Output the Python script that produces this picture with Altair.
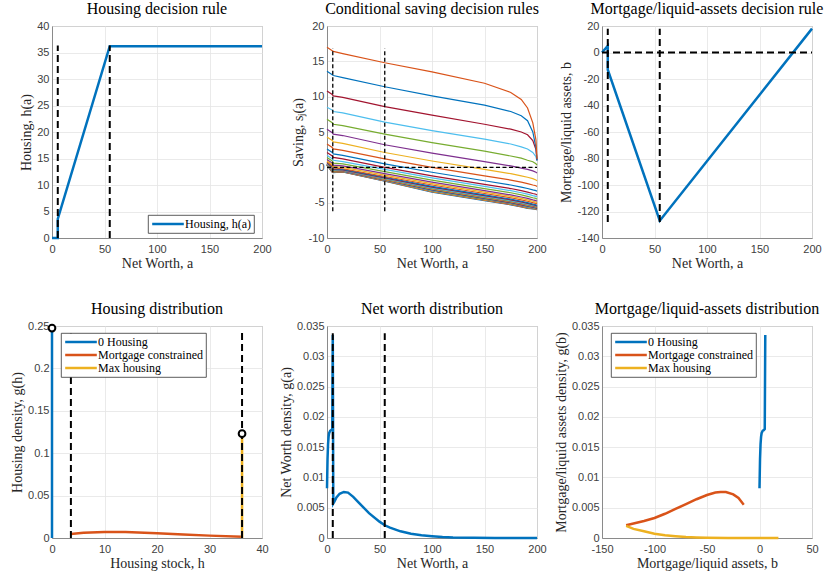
import altair as alt
import pandas as pd

# ---------------- colours (MATLAB default order) ----------------
BLUE, ORANGE, YELLOW = "#0072BD", "#D95319", "#EDB120"
PURPLE, GREEN, CYAN, RED = "#7E2F8E", "#77AC30", "#4DBEEE", "#A2142F"
CYCLE = [BLUE, ORANGE, YELLOW, PURPLE, GREEN, CYAN, RED]

SERIF = "Liberation Serif"
SANS = "Liberation Sans"

NW_TICKS = [0, 50, 100, 150, 200]
SERIES = ["0 Housing", "Mortgage constrained", "Max housing"]

# ---------------- Panel 1: housing decision rule ----------------
P1_A = [0, 5.5, 5.5, 55, 200]
P1_H = [0, 0, 3.6, 36.2, 36.2]
P1_SEG_X1 = [5.5, 55]
P1_SEG_Y1 = [0, 0]
P1_SEG_X2 = [5.5, 55]
P1_SEG_Y2 = [36.3, 36.3]

# ---------------- Panel 2: conditional saving rules ----------------
P2_A = [0, 5, 6, 15, 55, 100, 150, 175, 185, 191, 196, 199, 200]
# listed from the top curve to the bottom curve
P2_S = [
    [17.0, 16.5, 16.4, 16.1, 14.8, 13.5, 11.9, 10.6, 9.6, 8.4, 6.3, 3.9, 1.2],
    [13.6, 13.1, 13.0, 12.7, 11.4, 10.1, 8.8, 7.9, 7.3, 6.6, 5.0, 2.8, 1.0],
    [10.8, 10.3, 10.1, 9.9, 8.6, 7.4, 6.1, 5.4, 5.0, 4.6, 3.8, 2.5, 1.0],
    [8.5, 8.1, 7.9, 7.7, 6.4, 5.2, 4.0, 3.3, 2.9, 2.6, 2.1, 1.5, 0.9],
    [6.8, 6.3, 6.1, 5.9, 4.7, 3.5, 2.3, 1.6, 1.3, 1.0, 0.8, 0.5, 0.3],
    [5.4, 4.9, 4.7, 4.5, 3.2, 2.0, 0.8, 0.2, -0.1, -0.3, -0.5, -0.7, -0.8],
    [4.3, 3.8, 3.6, 3.4, 2.1, 0.9, -0.3, -0.9, -1.2, -1.4, -1.6, -1.8, -1.9],
    [3.3, 2.8, 2.6, 2.4, 1.2, 0.0, -1.2, -1.8, -2.1, -2.3, -2.5, -2.6, -2.7],
    [2.6, 2.1, 1.9, 1.7, 0.5, -0.7, -1.9, -2.5, -2.8, -3.0, -3.2, -3.3, -3.4],
    [2.1, 1.6, 1.4, 1.2, 0.0, -1.2, -2.4, -3.0, -3.3, -3.5, -3.7, -3.8, -3.9],
    [1.7, 1.2, 1.0, 0.8, -0.3, -1.5, -2.7, -3.3, -3.6, -3.8, -4.0, -4.1, -4.2],
    [1.4, 0.9, 0.6, 0.5, -0.6, -1.8, -3.0, -3.6, -3.9, -4.1, -4.3, -4.4, -4.5],
    [1.1, 0.6, 0.3, 0.2, -0.9, -2.1, -3.3, -3.9, -4.2, -4.4, -4.6, -4.7, -4.8],
    [0.9, 0.4, 0.1, 0.0, -1.1, -2.3, -3.5, -4.1, -4.4, -4.6, -4.8, -4.9, -5.0],
    [0.8, 0.2, -0.1, -0.2, -1.3, -2.5, -3.7, -4.3, -4.6, -4.8, -5.0, -5.1, -5.2],
    [0.7, 0.1, -0.2, -0.3, -1.4, -2.7, -3.9, -4.5, -4.8, -5.0, -5.2, -5.3, -5.4],
    [0.6, 0.0, -0.3, -0.35, -1.5, -2.8, -4.0, -4.6, -4.9, -5.1, -5.3, -5.4, -5.5],
    [0.55, -0.1, -0.35, -0.4, -1.55, -2.9, -4.1, -4.7, -5.0, -5.2, -5.35, -5.45, -5.55],
    [0.5, -0.15, -0.4, -0.4, -1.6, -2.95, -4.15, -4.75, -5.05, -5.25, -5.4, -5.5, -5.6],
    [0.5, -0.2, -0.45, -0.42, -1.65, -3.0, -4.2, -4.8, -5.1, -5.3, -5.45, -5.55, -5.65],
    [0.45, -0.25, -0.5, -0.45, -1.7, -3.05, -4.25, -4.85, -5.15, -5.35, -5.5, -5.6, -5.7],
    [0.45, -0.3, -0.5, -0.47, -1.72, -3.1, -4.3, -4.9, -5.2, -5.4, -5.55, -5.65, -5.75],
    [0.4, -0.35, -0.55, -0.5, -1.75, -3.15, -4.35, -4.95, -5.25, -5.45, -5.6, -5.7, -5.8],
    [0.4, -0.4, -0.6, -0.52, -1.78, -3.2, -4.4, -5.0, -5.3, -5.5, -5.65, -5.75, -5.85],
    [0.38, -0.45, -0.62, -0.55, -1.8, -3.25, -4.45, -5.05, -5.35, -5.55, -5.7, -5.8, -5.88],
    [0.36, -0.5, -0.65, -0.57, -1.83, -3.3, -4.5, -5.1, -5.4, -5.6, -5.72, -5.84, -5.9],
    [0.34, -0.55, -0.68, -0.6, -1.86, -3.35, -4.55, -5.15, -5.45, -5.65, -5.76, -5.87, -5.93],
    [0.32, -0.6, -0.7, -0.62, -1.9, -3.4, -4.6, -5.2, -5.5, -5.7, -5.8, -5.9, -5.96],
    [0.3, -0.65, -0.72, -0.64, -1.93, -3.45, -4.65, -5.25, -5.55, -5.75, -5.85, -5.93, -5.98],
    [0.28, -0.7, -0.75, -0.66, -1.96, -3.5, -4.7, -5.3, -5.6, -5.8, -5.9, -5.96, -6.0],
]
P2_SEG_X1 = [5.5, 55, 0]
P2_SEG_Y1 = [-6.2, -6.2, 0]
P2_SEG_X2 = [5.5, 55, 200]
P2_SEG_Y2 = [16.8, 16.8, 0]

# ---------------- Panel 3: mortgage / liquid assets rule ----------------
P3_A = [0, 5.5, 5.5, 55, 200]
P3_B = [0, 5, -13, -127, 18]
P3_SEG_X1 = [5.5, 55, 0]
P3_SEG_Y1 = [-128, -128, 0]
P3_SEG_X2 = [5.5, 55, 200]
P3_SEG_Y2 = [18, 18, 0]

# ---------------- Panel 4: housing distribution ----------------
P4_BLUE_X = [0, 0]
P4_BLUE_Y = [0, 0.2475]
P4_ORANGE_X = [3.6, 6, 10, 14, 20, 25, 30, 36.2]
P4_ORANGE_Y = [0.0047, 0.0062, 0.0071, 0.0071, 0.0056, 0.0042, 0.0028, 0.0015]
P4_YELLOW_X = [36.2, 36.2]
P4_YELLOW_Y = [0, 0.123]
P4_MARK_X = [0, 36.2]
P4_MARK_Y = [0.2475, 0.123]
P4_SEG_X1 = [3.6, 36.2]
P4_SEG_Y1 = [0, 0]
P4_SEG_X2 = [3.6, 36.2]
P4_SEG_Y2 = [0.245, 0.245]

# ---------------- Panel 5: net worth distribution ----------------
P5_A = [0, 0.5, 1, 1.5, 2, 3, 4, 5, 5.5, 6, 7, 9, 12, 16, 20, 25, 30, 40, 50,
        55, 60, 70, 80, 90, 100, 110, 120, 140, 160, 200]
P5_G = [0.0082, 0.013, 0.0155, 0.0167, 0.0173, 0.0177, 0.0178, 0.018, 0.0335,
        0.0057, 0.006, 0.0067, 0.0073, 0.0076, 0.0075, 0.0068, 0.0059, 0.0041,
        0.0027, 0.0021, 0.0017, 0.0011, 0.0007, 0.00045, 0.0003, 0.00018,
        0.0001, 0.00003, 0.00001, 0.0]
P5_SEG_X1 = [5.5, 55]
P5_SEG_Y1 = [0, 0]
P5_SEG_X2 = [5.5, 55]
P5_SEG_Y2 = [0.0338, 0.0338]

# ---------------- Panel 6: mortgage / liquid assets distribution ----------------
P6_BLUE_B = [0, 0.5, 1, 1.5, 2, 3, 4, 5, 5.5]
P6_BLUE_G = [0.0082, 0.013, 0.0155, 0.0167, 0.0173, 0.0177, 0.0178, 0.018, 0.0335]
P6_ORANGE_B = [-127, -120, -110, -100, -90, -80, -70, -60, -50, -42, -37, -32, -25, -20, -15]
P6_ORANGE_G = [0.0021, 0.0024, 0.0028, 0.0033, 0.0040, 0.0048, 0.0056, 0.0064,
               0.0071, 0.0075, 0.0076, 0.0076, 0.0072, 0.0066, 0.0055]
P6_YELLOW_B = [-127, -120, -110, -100, -90, -80, -70, -60, -50, -30, 0, 18]
P6_YELLOW_G = [0.0020, 0.0015, 0.0011, 0.0007, 0.00045, 0.0003, 0.00018,
               0.0001, 0.00005, 0.00001, 0.0, 0.0]

# ---------------- helpers ----------------
LBL = "datum.value < 0 ? '-' + format(-datum.value, '~g') : format(datum.value, '~g')"
W, H = 210, 212


def X(dom, ticks, title):
    return alt.X("x:Q", scale=alt.Scale(domain=dom, nice=False, zero=False),
                 axis=alt.Axis(title=title, values=ticks, labelExpr=LBL))


def Y(dom, ticks, title):
    return alt.Y("y:Q", scale=alt.Scale(domain=dom, nice=False, zero=False),
                 axis=alt.Axis(title=title, values=ticks, labelExpr=LBL))


def line_df(xs, ys, name):
    return pd.DataFrame({"x": xs, "y": ys, "o": list(range(len(xs))), "s": name})


def legend(lx, ly):
    return alt.Legend(title=None, orient="none", legendX=lx, legendY=ly,
                      symbolType="M-5,0H5", symbolSize=40, symbolStrokeWidth=2.5,
                      symbolOffset=11, labelOffset=11)


def dashes(x1, y1, x2, y2, xe, ye, width=2.0, dash=(7, 4)):
    df = pd.DataFrame({"x": x1, "y": y1, "x2": x2, "y2": y2})
    return alt.Chart(df).mark_rule(color="black", strokeWidth=width,
                                   strokeDash=list(dash)).encode(
        x=xe, y=ye, x2="x2:Q", y2="y2:Q")


# ---------------- Panel 1 ----------------
x1 = X([0, 200], NW_TICKS, "Net Worth, a")
y1 = Y([0, 40], list(range(0, 45, 5)), "Housing, h(a)")
p1_line = alt.Chart(line_df(P1_A, P1_H, "Housing, h(a)")).mark_line(strokeWidth=2.5).encode(
    x=x1, y=y1, order="o:Q",
    color=alt.Color("s:N", scale=alt.Scale(domain=["Housing, h(a)"], range=[BLUE]),
                    legend=legend(96, 189)))
p1 = alt.layer(p1_line, dashes(P1_SEG_X1, P1_SEG_Y1, P1_SEG_X2, P1_SEG_Y2, x1, y1)).properties(
    width=W, height=H, title="Housing decision rule")

# ---------------- Panel 2 ----------------
x2 = X([0, 200], NW_TICKS, "Net Worth, a")
y2 = Y([-10, 20], list(range(-10, 25, 5)), "Saving, sⱼ(a)")
n2 = len(P2_S)
rows = []
for k, vals in enumerate(P2_S):
    idx = n2 - 1 - k  # plotting index (bottom curve first)
    for j, (a, s) in enumerate(zip(P2_A, vals)):
        rows.append({"x": a, "y": s, "o": j, "id": idx, "col": CYCLE[idx % 7]})
df2 = pd.DataFrame(rows).sort_values(["id", "o"])
p2_lines = alt.Chart(df2).mark_line(strokeWidth=1.2).encode(
    x=x2, y=y2, order="o:Q", detail="id:N", color=alt.Color("col:N", scale=None))
p2 = alt.layer(p2_lines, dashes(P2_SEG_X1, P2_SEG_Y1, P2_SEG_X2, P2_SEG_Y2, x2, y2,
                                width=1.3, dash=(4, 2.5))).properties(
    width=W, height=H, title="Conditional saving decision rules")

# ---------------- Panel 3 ----------------
x3 = X([0, 200], NW_TICKS, "Net Worth, a")
y3 = Y([-140, 20], list(range(-140, 40, 20)), "Mortgage/liquid assets, b")
p3_line = alt.Chart(line_df(P3_A, P3_B, "b")).mark_line(strokeWidth=2.5, color=BLUE).encode(
    x=x3, y=y3, order="o:Q")
p3 = alt.layer(p3_line, dashes(P3_SEG_X1, P3_SEG_Y1, P3_SEG_X2, P3_SEG_Y2, x3, y3)).properties(
    width=W, height=H, title="Mortgage/liquid-assets decision rule")

# ---------------- Panel 4 ----------------
x4 = X([0, 40], [0, 10, 20, 30, 40], "Housing stock, h")
y4 = Y([0, 0.25], [0, 0.05, 0.1, 0.15, 0.2, 0.25], "Housing density, g(h)")
df4 = pd.concat([line_df(P4_BLUE_X, P4_BLUE_Y, SERIES[0]),
                 line_df(P4_ORANGE_X, P4_ORANGE_Y, SERIES[1]),
                 line_df(P4_YELLOW_X, P4_YELLOW_Y, SERIES[2])])
p4_lines = alt.Chart(df4).mark_line(strokeWidth=2.5).encode(
    x=x4, y=y4, order="o:Q",
    color=alt.Color("s:N", scale=alt.Scale(domain=SERIES, range=[BLUE, ORANGE, YELLOW]),
                    legend=legend(9, 7)))
p4_marks = alt.Chart(pd.DataFrame({"x": P4_MARK_X, "y": P4_MARK_Y})).mark_point(
    shape="circle", filled=False, fill="white", color="black", strokeWidth=2, size=45,
    opacity=1).encode(x=x4, y=y4)
p4 = alt.layer(p4_lines, dashes(P4_SEG_X1, P4_SEG_Y1, P4_SEG_X2, P4_SEG_Y2, x4, y4),
               p4_marks).properties(width=W, height=H, title="Housing distribution")

# ---------------- Panel 5 ----------------
x5 = X([0, 200], NW_TICKS, "Net Worth, a")
y5 = Y([0, 0.035], [0, 0.005, 0.01, 0.015, 0.02, 0.025, 0.03, 0.035], "Net Worth density, g(a)")
p5_line = alt.Chart(line_df(P5_A, P5_G, "g")).mark_line(strokeWidth=2.5, color=BLUE).encode(
    x=x5, y=y5, order="o:Q")
p5 = alt.layer(p5_line, dashes(P5_SEG_X1, P5_SEG_Y1, P5_SEG_X2, P5_SEG_Y2, x5, y5)).properties(
    width=W, height=H, title="Net worth distribution")

# ---------------- Panel 6 ----------------
x6 = X([-150, 50], [-150, -100, -50, 0, 50], "Mortgage/liquid assets, b")
y6 = Y([0, 0.035], [0, 0.005, 0.01, 0.015, 0.02, 0.025, 0.03, 0.035],
       "Mortgage/liquid assets density, g(b)")
df6 = pd.concat([line_df(P6_BLUE_B, P6_BLUE_G, SERIES[0]),
                 line_df(P6_ORANGE_B, P6_ORANGE_G, SERIES[1]),
                 line_df(P6_YELLOW_B, P6_YELLOW_G, SERIES[2])])
p6 = alt.Chart(df6).mark_line(strokeWidth=2.5).encode(
    x=x6, y=y6, order="o:Q",
    color=alt.Color("s:N", scale=alt.Scale(domain=SERIES, range=[BLUE, ORANGE, YELLOW]),
                    legend=legend(9, 7))).properties(
    width=W, height=H, title="Mortgage/liquid-assets distribution")

chart = alt.concat(p1, p2, p3, p4, p5, p6, columns=3,
                   spacing={"row": 88, "column": 65}, bounds="flush").resolve_scale(
    color="independent").properties(
    padding={"left": 10, "top": 0, "right": 0, "bottom": 0}
).configure_view(stroke="#8a8a8a", strokeWidth=1).configure_axis(
    labelFont=SANS, labelFontSize=11, labelColor="#404040",
    titleFont=SERIF, titleFontSize=14, titleFontWeight="normal", titleColor="#262626",
    gridColor="#e4e4e4", gridWidth=0.8, domainColor="#8a8a8a", ticks=False,
    labelPadding=3, titlePadding=3, labelFlush=False, labelOverlap=False
).configure_axisX(labelPadding=5, titlePadding=2).configure_title(
    font=SERIF, fontSize=16, fontWeight="normal", color="black", offset=3,
    anchor="middle", frame="group"
).configure_legend(
    labelFont=SERIF, labelFontSize=12, labelColor="black", fillColor="white",
    strokeColor="#333333", strokeWidth=0.8, padding=3, rowPadding=1, cornerRadius=0
)

chart.save("out.html", embed_options={"renderer": "svg", "actions": False})
